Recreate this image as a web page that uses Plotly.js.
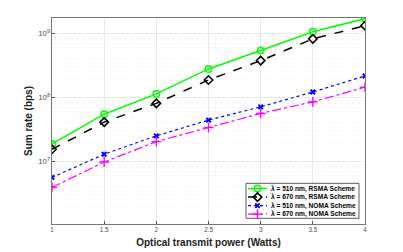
<!DOCTYPE html>
<html><head><meta charset="utf-8">
<script src="https://cdn.plot.ly/plotly-3.0.1.min.js"></script>
<style>html,body{margin:0;padding:0;background:#fff}#c{width:403px;height:252px}</style>
</head><body><div id="c"></div>
<script>
const power = [1, 1.5, 2, 2.5, 3, 3.5, 4];
const rsma510 = [1.87e7, 5.45e7, 1.13e8, 2.78e8, 5.4e8, 1.06e9, 1.7e9];
const rsma670 = [1.54e7, 4.1e7, 8.05e7, 1.87e8, 3.75e8, 8.2e8, 1.32e9];
const noma510 = [5.6e6, 1.29e7, 2.5e7, 4.4e7, 7.1e7, 1.21e8, 2.16e8];
const noma670 = [3.9e6, 9.75e6, 2.03e7, 3.36e7, 5.6e7, 8.5e7, 1.44e8];
const names = ['λ = 510 nm, RSMA Scheme','λ = 670 nm, RSMA Scheme','λ = 510 nm, NOMA Scheme','λ = 670 nm, NOMA Scheme'];
const xTicks = [1, 1.5, 2, 2.5, 3, 3.5, 4];

const styles = [
 {line:{color:'#00ff00', width:1.5, dash:'solid'}, marker:{symbol:'circle-open', size:6.5, color:'#00ff00', line:{width:1.5}}},
 {line:{color:'#000000', width:1.5, dash:'dash'}, marker:{symbol:'diamond-open', size:6.5, color:'#000000', line:{width:1.5}}},
 {line:{color:'#0000ff', width:1.2, dash:'dot'}, marker:{symbol:'x-thin-open', size:4.5, color:'#0000ff', line:{width:2, color:'#0000ff'}}},
 {line:{color:'#ff00ff', width:1.2, dash:'dashdot'}, marker:{symbol:'cross-thin-open', size:7, color:'#ff00ff', line:{width:1.4, color:'#ff00ff'}}}
];
const series = [rsma510, rsma670, noma510, noma670];

const traces = series.map((s,i)=>({x: power, y: s, name: names[i], mode:'lines+markers',
  line: styles[i].line, marker: styles[i].marker, showlegend:false}));

// custom compact legend drawn in pixel coordinates on an overlay axis
const L = {x0:246, x1:359, y0:183.3, y1:218.3};
const rowY = [188.6, 197.1, 205.6, 214.1];
traces.push({x:[L.x0,L.x1,L.x1,L.x0,L.x0], y:[L.y0,L.y0,L.y1,L.y1,L.y0], xaxis:'x2', yaxis:'y2',
  mode:'lines', fill:'toself', fillcolor:'#fff', line:{color:'#333', width:0.8}, showlegend:false, hoverinfo:'skip'});
rowY.forEach((ry,i)=>{
  traces.push({x:[248,267], y:[ry,ry], xaxis:'x2', yaxis:'y2', mode:'lines', line:styles[i].line, showlegend:false});
  traces.push({x:[257.5], y:[ry], xaxis:'x2', yaxis:'y2', mode:'markers', marker:styles[i].marker, showlegend:false});
});
const annotations = rowY.map((ry,i)=>({x:269, y:ry, xref:'x2', yref:'y2', xanchor:'left', yanchor:'middle',
  text:'<b>'+names[i]+'</b>', showarrow:false, font:{size:6.6, color:'#000', family:'Liberation Sans, Arial, sans-serif'}}));

const layout = {
 width:403, height:252,
 margin:{l:52, r:38, t:18, b:28},
 paper_bgcolor:'#fff', plot_bgcolor:'#fff',
 font:{family:'Liberation Sans, Arial, sans-serif', color:'#4d4d4d', size:6},
 showlegend:false,
 annotations: annotations,
 xaxis:{range:[1,4], tickvals:xTicks, ticktext:xTicks.map(String),
   showline:true, mirror:true, linecolor:'#555', linewidth:0.8,
   ticks:'inside', ticklen:3, tickcolor:'#555',
   showgrid:true, gridcolor:'#e3e3e3', gridwidth:0.8, zeroline:false,
   tickfont:{size:6.3, color:'#4d4d4d'},
   title:{text:'<b>Optical transmit power (Watts)</b>', font:{size:10, color:'#222'}, standoff:6}},
 yaxis:{type:'log', range:[6.02, 9.24], dtick:1, exponentformat:'power',
   showline:true, mirror:true, linecolor:'#555', linewidth:0.8,
   ticks:'inside', ticklen:3, tickcolor:'#555',
   showgrid:true, gridcolor:'#e3e3e3', gridwidth:0.8, zeroline:false,
   minor:{dtick:'D1', showgrid:true, gridcolor:'#ececec', griddash:'dot', gridwidth:0.6, ticks:''},
   tickfont:{size:6.3, color:'#4d4d4d'},
   title:{text:'<b>Sum rate (bps)</b>', font:{size:10, color:'#222'}, standoff:3}},
 xaxis2:{overlaying:'x', range:[52,365], visible:false, fixedrange:true},
 yaxis2:{overlaying:'y', range:[224,18], visible:false, fixedrange:true}
};
Plotly.newPlot('c', traces, layout, {displayModeBar:false, staticPlot:true});
</script></body></html>
